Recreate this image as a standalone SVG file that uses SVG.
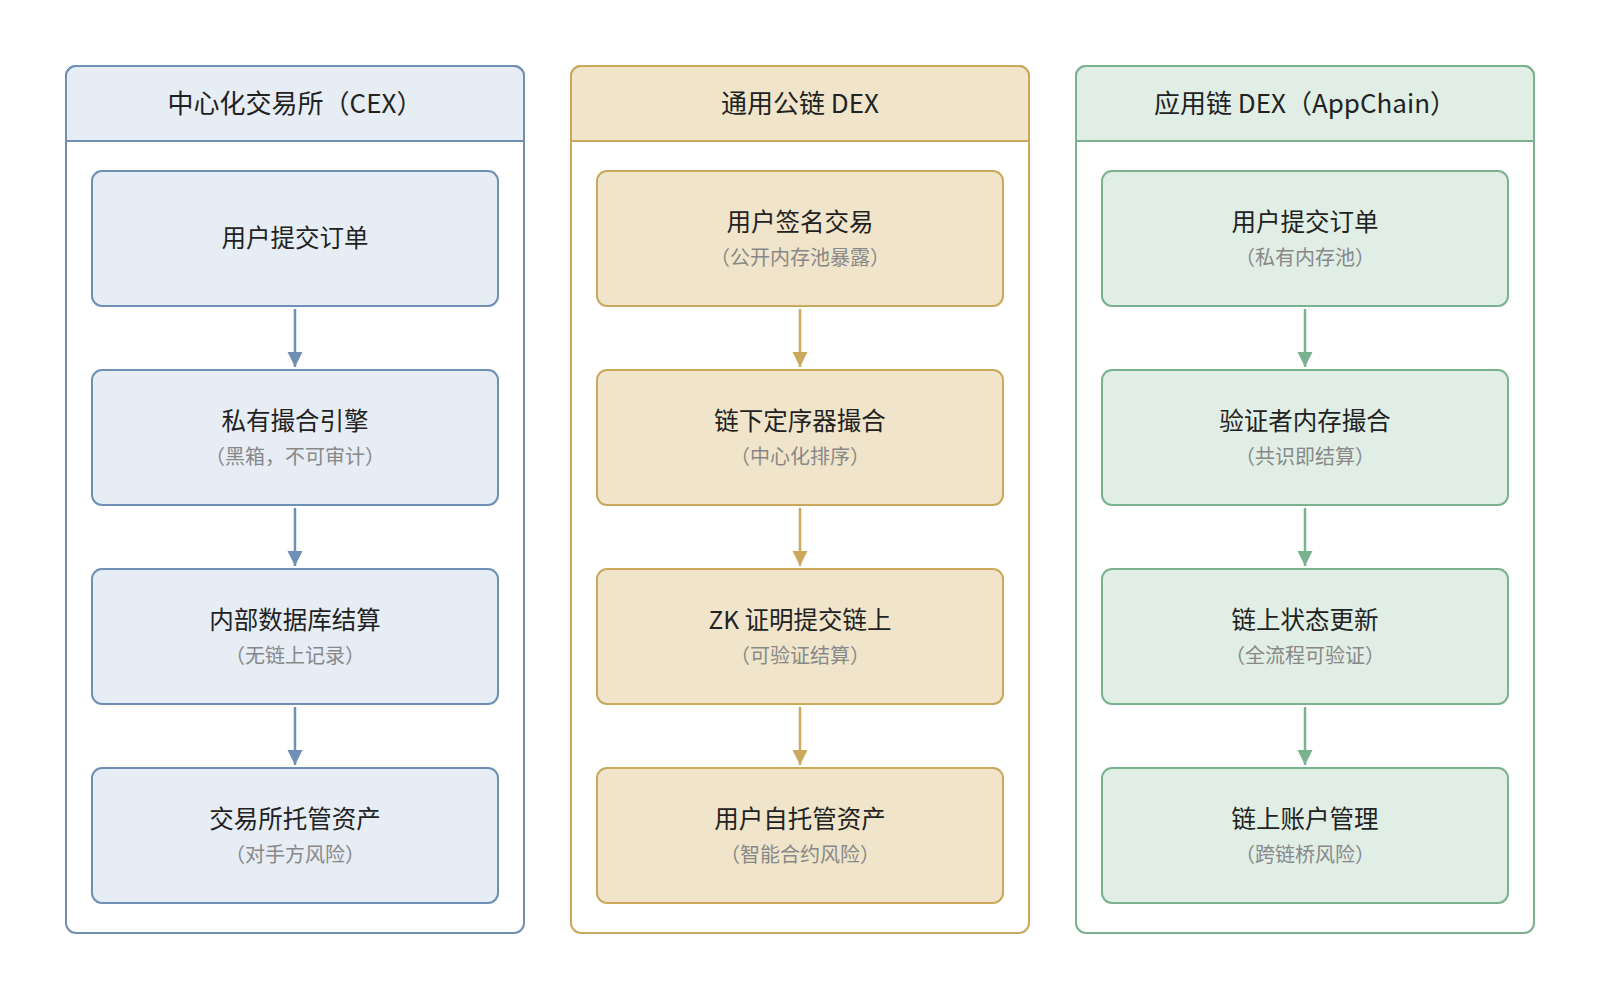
<svg xmlns="http://www.w3.org/2000/svg" width="1600" height="999" viewBox="0 0 1600 999">
<style>
text{font-family:"Noto Sans CJK SC","Noto Sans",sans-serif;text-anchor:middle;dominant-baseline:central}
.t{font-size:26px;fill:#222}
.m{font-size:24.5px;fill:#222}
.s{font-size:20px;fill:#888}
.pb{fill:#fff;stroke:#6f8fb4;stroke-width:2}
.hb{fill:#e6edf5;stroke:#6f8fb4;stroke-width:2}
.nb{fill:#e6edf5;stroke:#6f8fb4;stroke-width:2}
.pg{fill:#fff;stroke:#caa95c;stroke-width:2}
.hg{fill:#f0e5cb;stroke:#caa95c;stroke-width:2}
.ng{fill:#f0e5cb;stroke:#caa95c;stroke-width:2}
.pe{fill:#fff;stroke:#7ab28f;stroke-width:2}
.he{fill:#e0eee6;stroke:#7ab28f;stroke-width:2}
.ne{fill:#e0eee6;stroke:#7ab28f;stroke-width:2}
.cb{stroke:#6f8fb4;stroke-width:2.5;fill:none}
.cg{stroke:#caa95c;stroke-width:2.5;fill:none}
.ce{stroke:#7ab28f;stroke-width:2.5;fill:none}
</style>
<defs>
<marker id="abb" markerWidth="16" markerHeight="16" refX="15" refY="7.5" orient="auto" markerUnits="userSpaceOnUse"><path d="M0,0 L15,7.5 L0,15 Z" fill="#6f8fb4"/></marker>
<marker id="ag" markerWidth="16" markerHeight="16" refX="15" refY="7.5" orient="auto" markerUnits="userSpaceOnUse"><path d="M0,0 L15,7.5 L0,15 Z" fill="#caa95c"/></marker>
<marker id="ae" markerWidth="16" markerHeight="16" refX="15" refY="7.5" orient="auto" markerUnits="userSpaceOnUse"><path d="M0,0 L15,7.5 L0,15 Z" fill="#7ab28f"/></marker>
</defs>
<rect width="1600" height="999" fill="#fff"/>

<g id="panel-cex">
<rect class="pb" x="66" y="66" width="458" height="867" rx="10"/>
<path class="hb" d="M66,141 V76 a10,10 0 0 1 10,-10 H514 a10,10 0 0 1 10,10 V141 Z"/>
<text class="t" x="295" y="101">中心化交易所（CEX）</text>
</g>
<g id="panel-dex">
<rect class="pg" x="571" y="66" width="458" height="867" rx="10"/>
<path class="hg" d="M571,141 V76 a10,10 0 0 1 10,-10 H1019 a10,10 0 0 1 10,10 V141 Z"/>
<text class="t" x="800" y="101">通用公链 DEX</text>
</g>
<g id="panel-app">
<rect class="pe" x="1076" y="66" width="458" height="867" rx="10"/>
<path class="he" d="M1076,141 V76 a10,10 0 0 1 10,-10 H1524 a10,10 0 0 1 10,10 V141 Z"/>
<text class="t" x="1305" y="101">应用链 DEX（AppChain）</text>
</g>

<g id="cex-1"><rect class="nb" x="92" y="171" width="406" height="135" rx="10"/><text class="m" x="295" y="236">用户提交订单</text></g>
<g id="cex-2"><rect class="nb" x="92" y="370" width="406" height="135" rx="10"/><text class="m" x="295" y="419">私有撮合引擎</text><text class="s" x="295" y="455">（黑箱，不可审计）</text></g>
<g id="cex-3"><rect class="nb" x="92" y="569" width="406" height="135" rx="10"/><text class="m" x="295" y="618">内部数据库结算</text><text class="s" x="295" y="654">（无链上记录）</text></g>
<g id="cex-4"><rect class="nb" x="92" y="768" width="406" height="135" rx="10"/><text class="m" x="295" y="817">交易所托管资产</text><text class="s" x="295" y="853">（对手方风险）</text></g>

<g id="dex-1"><rect class="ng" x="597" y="171" width="406" height="135" rx="10"/><text class="m" x="800" y="220">用户签名交易</text><text class="s" x="800" y="256">（公开内存池暴露）</text></g>
<g id="dex-2"><rect class="ng" x="597" y="370" width="406" height="135" rx="10"/><text class="m" x="800" y="419">链下定序器撮合</text><text class="s" x="800" y="455">（中心化排序）</text></g>
<g id="dex-3"><rect class="ng" x="597" y="569" width="406" height="135" rx="10"/><text class="m" x="800" y="618">ZK 证明提交链上</text><text class="s" x="800" y="654">（可验证结算）</text></g>
<g id="dex-4"><rect class="ng" x="597" y="768" width="406" height="135" rx="10"/><text class="m" x="800" y="817">用户自托管资产</text><text class="s" x="800" y="853">（智能合约风险）</text></g>

<g id="app-1"><rect class="ne" x="1102" y="171" width="406" height="135" rx="10"/><text class="m" x="1305" y="220">用户提交订单</text><text class="s" x="1305" y="256">（私有内存池）</text></g>
<g id="app-2"><rect class="ne" x="1102" y="370" width="406" height="135" rx="10"/><text class="m" x="1305" y="419">验证者内存撮合</text><text class="s" x="1305" y="455">（共识即结算）</text></g>
<g id="app-3"><rect class="ne" x="1102" y="569" width="406" height="135" rx="10"/><text class="m" x="1305" y="618">链上状态更新</text><text class="s" x="1305" y="654">（全流程可验证）</text></g>
<g id="app-4"><rect class="ne" x="1102" y="768" width="406" height="135" rx="10"/><text class="m" x="1305" y="817">链上账户管理</text><text class="s" x="1305" y="853">（跨链桥风险）</text></g>

<g id="connectors">
<path class="cb" d="M295,309 V367" marker-end="url(#abb)"/>
<path class="cb" d="M295,508 V566" marker-end="url(#abb)"/>
<path class="cb" d="M295,707 V765" marker-end="url(#abb)"/>
<path class="cg" d="M800,309 V367" marker-end="url(#ag)"/>
<path class="cg" d="M800,508 V566" marker-end="url(#ag)"/>
<path class="cg" d="M800,707 V765" marker-end="url(#ag)"/>
<path class="ce" d="M1305,309 V367" marker-end="url(#ae)"/>
<path class="ce" d="M1305,508 V566" marker-end="url(#ae)"/>
<path class="ce" d="M1305,707 V765" marker-end="url(#ae)"/>
</g>
</svg>
